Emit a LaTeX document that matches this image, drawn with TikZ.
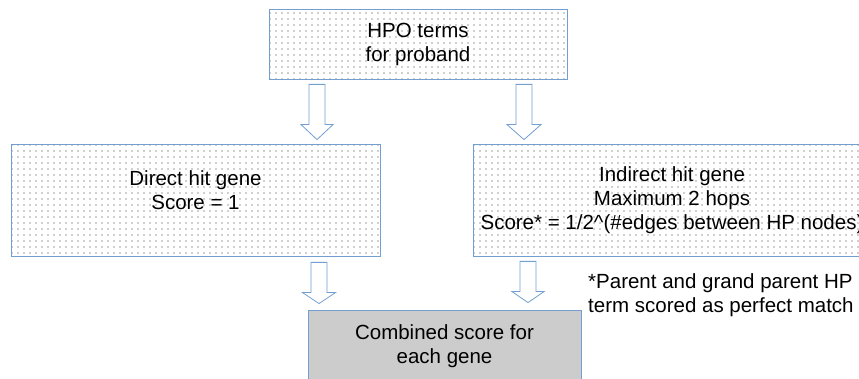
\documentclass[tikz,border=0pt]{standalone}
\usepackage{fontspec}
\setmainfont{Liberation Sans}
\usetikzlibrary{patterns.meta,calc}
\definecolor{bord}{HTML}{729FCF}
\definecolor{gbox}{HTML}{CCCCCC}
\definecolor{dotc}{HTML}{333333}
\tikzset{
  txt/.style={font=\fontsize{20.5pt}{24pt}\selectfont, align=center, text=black},
  dotbox/.style={txt, draw=bord, line width=0.8pt, rectangle, inner sep=0pt,
    pattern={Dots[distance=6pt, radius=0.65pt]}, pattern color=dotc},
  graybox/.style={txt, draw=bord, line width=0.8pt, rectangle, inner sep=0pt, fill=gbox},
  arr/.style={draw=bord, fill=white, line width=0.8pt, line join=miter},
}
% #1 x, #2 from node, #3 to node, #4 top gap, #5 tip gap, #6 head length, #7 head half width
\newcommand\blockarr[7]{%
  \draw[arr] let \p1=(#2.south), \p2=(#3.north) in
    (#1pt-8pt, \y1-#4pt) -- (#1pt+8pt, \y1-#4pt) -- (#1pt+8pt, \y2+#5pt+#6pt)
    -- (#1pt+#7pt, \y2+#5pt+#6pt) -- (#1pt, \y2+#5pt) -- (#1pt-#7pt, \y2+#5pt+#6pt)
    -- (#1pt-8pt, \y2+#5pt+#6pt) -- cycle;}
\begin{document}
\begin{tikzpicture}[x=1pt, y=1pt]
  \useasboundingbox (0,0) rectangle (859,379);
  \clip (0,0) rectangle (859,379);
  \node[dotbox, minimum width=298pt, minimum height=70pt] (hpo) at (418,335) {HPO terms\\for proband};
  \node[dotbox, minimum width=369pt, minimum height=112pt] (direct) at (195.5,179) {Direct hit gene\\Score = 1\\[-4pt]\mbox{}};
  \node[dotbox, minimum width=398pt, minimum height=112pt] (indirect) at (672,179)
    {Indirect hit gene\\Maximum 2 hops\\Score* = 1/2\textasciicircum(\#edges between HP nodes)};
  \node[graybox, minimum width=273pt, minimum height=73pt] (comb) at (444.5,32.5) {Combined score for\\each gene};
  \node[txt, align=left, anchor=west, inner sep=0pt] (note) at (588,84)
    {*Parent and grand parent HP\\term scored as perfect match};
  \blockarr{317}{hpo}{direct}{5}{4}{15}{16}
  \blockarr{524}{hpo}{indirect}{5}{4}{15}{17}
  \blockarr{319}{direct}{comb}{6}{6}{11}{16.5}
  \blockarr{528}{indirect}{comb}{5}{7}{11}{16}
\end{tikzpicture}
\end{document}
